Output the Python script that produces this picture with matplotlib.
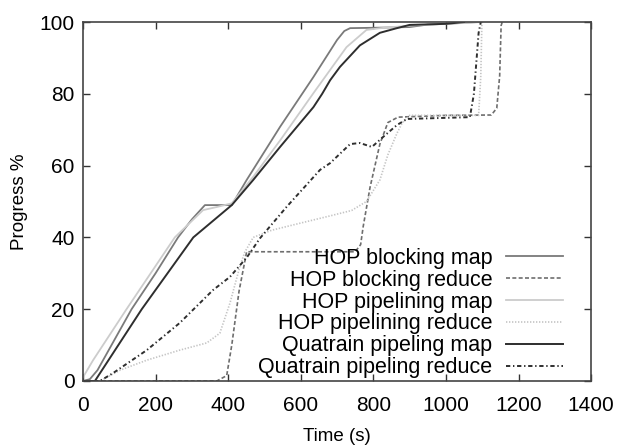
import matplotlib
matplotlib.use("Agg")
import matplotlib.pyplot as plt

plt.rcParams['font.family'] = ['Liberation Sans', 'DejaVu Sans']

# progress curves (time in s, progress in %)
hop_block_map_t = [0, 19, 40, 134, 200, 262, 300, 336, 410, 451, 543, 635, 700, 720, 736, 800, 900, 950, 1000, 1087]
hop_block_map_y = [0, 0.5, 3, 20, 30, 40, 45, 49, 49, 56, 70.8, 84.7, 95, 97.5, 98.3, 98.4, 98.6, 99.3, 99.5, 100]

hop_block_red_t = [0, 369, 396, 410, 430, 451, 750, 765, 772, 791, 818, 840, 868, 1000, 1125, 1140, 1148, 1152, 1155]
hop_block_red_y = [0, 0, 1.5, 10, 25, 36, 36, 38, 43, 54, 66, 72, 73.5, 74, 74.1, 76, 85, 99, 100]

hop_pipe_map_t = [0, 28, 120, 253, 331, 370, 410, 470, 543, 635, 726, 781, 820, 900, 1000, 1100]
hop_pipe_map_y = [1, 5.8, 20, 40, 47.6, 48.5, 49.5, 57, 67, 80.2, 93, 97.8, 98.3, 99, 99.5, 100]

hop_pipe_red_t = [0, 47, 102, 176, 267, 341, 377, 405, 432, 446, 469, 520, 600, 681, 740, 781, 818, 840, 865, 880, 900, 1090, 1096, 1099]
hop_pipe_red_y = [0, 0, 3, 5.8, 8.6, 10.6, 13.3, 21.7, 31.8, 35.9, 40, 42, 44, 46, 47.5, 50, 56, 63, 69, 72, 74, 74, 85, 100]

qt_map_t = [0, 33, 162, 304, 410, 469, 543, 635, 659, 681, 708, 763, 818, 865, 900, 1000, 1050]
qt_map_y = [0, 0, 20, 40, 49, 56, 65.2, 76.3, 80, 83.8, 87.5, 93.5, 97, 98.3, 99.2, 99.5, 100]

qt_red_t = [0, 47, 83, 176, 267, 358, 405, 452, 488, 561, 653, 681, 736, 763, 796, 827, 865, 893, 1066, 1077, 1090, 1096]
qt_red_y = [0, 0, 2.2, 8.6, 16.2, 25.3, 29, 34.5, 39.8, 48.5, 58.8, 60.7, 66, 66.3, 65.2, 68, 71.3, 73, 73.5, 80, 97, 100]

labels = ["HOP blocking map", "HOP blocking reduce", "HOP pipelining map",
          "HOP pipelining reduce", "Quatrain pipeling map", "Quatrain pipeling reduce"]

fig = plt.figure(figsize=(6.19, 4.47), dpi=100)
ax = fig.add_axes([0.134, 0.1477, 0.821, 0.803])

ax.plot(hop_block_map_t, hop_block_map_y, color='#7a7a7a', lw=1.3, label=labels[0])
ax.plot(hop_block_red_t, hop_block_red_y, color='#6e6e6e', lw=1.2, dashes=(2.4, 1.4), label=labels[1])
ax.plot(hop_pipe_map_t, hop_pipe_map_y, color='#cccccc', lw=1.3, label=labels[2])
ax.plot(hop_pipe_red_t, hop_pipe_red_y, color='#c4c4c4', lw=1.2, dashes=(0.8, 1.0), label=labels[3])
ax.plot(qt_map_t, qt_map_y, color='#2e2e2e', lw=1.4, label=labels[4])
ax.plot(qt_red_t, qt_red_y, color='#2e2e2e', lw=1.4, dashes=(2.2, 1.4, 0.7, 1.4), label=labels[5])

ax.set_xlim(0, 1400)
ax.set_ylim(0, 100)
ax.set_xticks(range(0, 1401, 200))
ax.set_yticks(range(0, 101, 20))
ax.tick_params(direction='in', length=5, width=1, top=True, right=True,
               labelsize=15, pad=6, colors='#333333', labelcolor='black')
ax.tick_params(axis='x', pad=11)
for s in ax.spines.values():
    s.set_color('#444444')
    s.set_linewidth(1.2)

ax.set_xlabel("Time (s)", fontsize=13.5, labelpad=9)
ax.set_ylabel("Progress %", fontsize=13.5, labelpad=8)

leg = ax.legend(loc='lower right', bbox_to_anchor=(0.945, 0.008), frameon=False,
                markerfirst=False, fontsize=15.5, handlelength=2.65, handletextpad=0.65,
                labelspacing=0.04, borderpad=0, borderaxespad=0)

fig.savefig("out.png", dpi=100)
